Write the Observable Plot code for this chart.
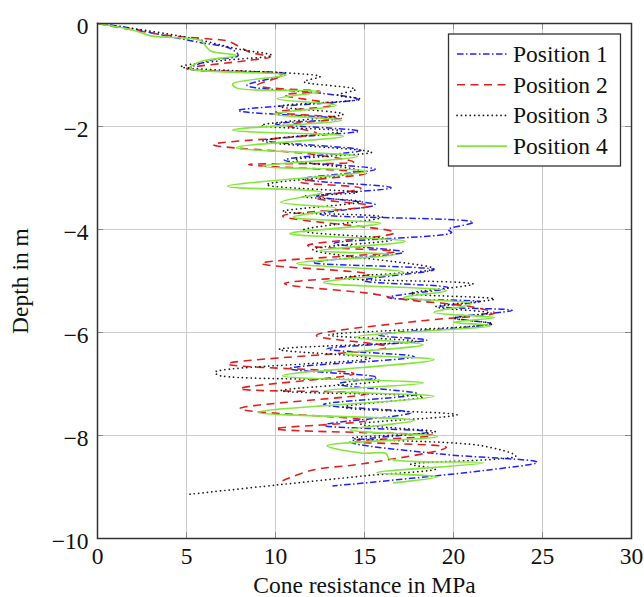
<!DOCTYPE html>
<html><head><meta charset="utf-8">
<script src="https://cdn.jsdelivr.net/npm/d3@7"></script>
<script src="https://cdn.jsdelivr.net/npm/@observablehq/plot@0.6"></script>
<style>body{margin:0;background:#fff}</style>
</head><body><div id="chart"></div>
<script>
const FONT = "'Liberation Serif','Times New Roman',serif";
const xTicks = [0, 5, 10, 15, 20, 25, 30];
const yTicks = [0, -2, -4, -6, -8, -10];
const seriesNames = ["Position 1", "Position 2", "Position 3", "Position 4"];

// Position 1 (blue, dash-dot)
const pos1Q = [0,1.5,3.3,5.6,7.5,7.9,6.3,5.2,10.6,8.4,12.5,14.6,7.9,13.5,10.0,14.7,9.5,14.8,10.5,15.6,11.6,16.5,12.3,15.6,12.5,21.1,19.7,19.9,13.3,17.2,12.1,18.9,14.9,19.7,16.3,21.5,19.2,23.3,20.1,22.1,15.8,18.5,12.9,17.8,10.8,15.7,13.5,18.0,12.7,17.6,12.7,18.6,14.2,19.3,24.7,21.7,13.2];
const pos1D = [0,-0.07,-0.2,-0.36,-0.49,-0.62,-0.72,-0.88,-0.98,-1.2,-1.35,-1.47,-1.69,-1.85,-1.95,-2.09,-2.27,-2.46,-2.65,-2.83,-3.02,-3.19,-3.35,-3.52,-3.70,-3.86,-4.0,-4.06,-4.27,-4.44,-4.64,-4.78,-4.99,-5.13,-5.32,-5.40,-5.50,-5.57,-5.72,-5.83,-6.05,-6.15,-6.32,-6.47,-6.70,-6.87,-7.0,-7.19,-7.40,-7.56,-7.80,-7.93,-8.12,-8.36,-8.52,-8.68,-8.98];

// Position 2 (red, dashed)
const pos2Q = [0,3.9,6.3,7.3,8.6,9.7,8.4,5.0,10.4,9.0,12.5,10.5,13.3,10.0,13.7,10.7,12.3,6.5,12.1,14.4,8.5,15.1,11.4,14.8,12.3,15.3,10.4,16.7,11.8,16.7,9.2,15.3,10.5,15.5,17.0,21.0,22.3,18.0,12.3,16.3,7.3,14.4,8.0,15.1,8.0,15.1,10.0,18.9,14.5,19.6,14.9,12.1,10.4];
const pos2D = [0,-0.23,-0.30,-0.34,-0.56,-0.65,-0.72,-0.88,-1.0,-1.2,-1.32,-1.39,-1.58,-1.72,-1.84,-1.98,-2.13,-2.35,-2.54,-2.69,-2.74,-2.91,-3.08,-3.20,-3.39,-3.54,-3.74,-4.06,-4.31,-4.43,-4.66,-4.87,-5.05,-5.25,-5.35,-5.50,-5.62,-5.78,-6.06,-6.28,-6.61,-6.80,-7.09,-7.19,-7.48,-7.71,-7.87,-8.0,-8.12,-8.23,-8.55,-8.67,-8.88];

// Position 3 (black, dotted)
const pos3Q = [0,3.0,5.5,7.8,9.8,7.0,4.7,12.5,11.6,14.5,13.5,14.8,10.2,13.8,9.2,13.7,9.3,15.4,11.1,14.8,9.5,14.6,11.5,14.8,10.4,16.0,11.5,16.5,12.1,18.9,13.7,21.1,17.6,22.3,19.0,22.0,20.0,22.2,13.0,17.9,10.2,15.3,6.6,6.8,15.9,10.3,18.3,13.8,20.2,14.8,19.0,14.3,21.6,23.5,17.6,19.0,15.1,10.1,5.2];
const pos3D = [0,-0.15,-0.3,-0.49,-0.62,-0.72,-0.84,-1.03,-1.13,-1.28,-1.39,-1.47,-1.61,-1.76,-1.98,-2.09,-2.28,-2.50,-2.65,-2.87,-3.13,-3.28,-3.36,-3.46,-3.65,-3.76,-4.02,-4.20,-4.39,-4.76,-4.94,-5.06,-5.24,-5.35,-5.50,-5.62,-5.72,-5.83,-6.05,-6.17,-6.33,-6.50,-6.77,-6.83,-6.94,-7.13,-7.25,-7.45,-7.60,-7.78,-7.93,-8.05,-8.20,-8.40,-8.56,-8.65,-8.78,-8.96,-9.14];

// Position 4 (green, solid)
const pos4Q = [0,2.0,3.0,5.8,6.1,6.4,7.8,5.8,5.2,10.6,7.6,7.8,12.5,10.1,13.4,9.9,13.7,7.6,13.8,7.8,14.6,9.3,15.1,7.3,12.6,10.3,13.4,11.0,15.9,10.8,17.3,12.5,16.7,11.2,17.2,12.7,19.6,17.2,21.0,18.9,22.3,20.0,22.1,14.5,18.3,13.9,18.9,10.4,18.3,12.8,18.9,9.0,17.8,14.2,19.1,12.9,14.8,16.2,16.4,21.7,15.7,19.1,16.6];
const pos4D = [0,-0.13,-0.24,-0.33,-0.45,-0.54,-0.62,-0.74,-0.87,-1.0,-1.17,-1.25,-1.32,-1.46,-1.59,-1.76,-1.88,-2.07,-2.19,-2.41,-2.58,-2.77,-2.87,-3.16,-3.28,-3.47,-3.59,-3.76,-3.88,-4.08,-4.23,-4.41,-4.49,-4.66,-4.83,-5.03,-5.19,-5.32,-5.44,-5.61,-5.71,-5.80,-5.87,-6.09,-6.24,-6.41,-6.53,-6.84,-6.98,-7.13,-7.24,-7.55,-7.71,-7.89,-8.02,-8.20,-8.34,-8.35,-8.45,-8.53,-8.72,-8.80,-8.92];

const allQ = [pos1Q, pos2Q, pos3Q, pos4Q];
const allD = [pos1D, pos2D, pos3D, pos4D];
const styles = [
  {stroke: "#2020ff", strokeDasharray: "6.5,2.5,1.5,2.5", strokeWidth: 1.5, strokeLinecap: "butt"},
  {stroke: "#e01f1f", strokeDasharray: "8,5.5", strokeWidth: 1.6, strokeLinecap: "butt"},
  {stroke: "#1a1a1a", strokeDasharray: "0.1,4.3", strokeWidth: 1.7, strokeLinecap: "round"},
  {stroke: "#84e63c", strokeDasharray: null, strokeWidth: 1.6, strokeLinecap: "butt"}
];
const rows = seriesNames.flatMap((name, i) => allQ[i].map((q, j) => ({name, q, d: allD[i][j]})));

const W = 644, H = 597, ML = 97, MR = 13, MT = 23, MB = 59;
const FW = W - ML - MR, FH = H - MT - MB;
const FS = 23.5;
const innerX = xTicks.slice(1, -1), innerY = yTicks.slice(1, -1);

const chart = Plot.plot({
  width: W, height: H, marginLeft: ML, marginRight: MR, marginTop: MT, marginBottom: MB,
  style: {fontFamily: FONT, background: "#fff", color: "#111"},
  x: {domain: [0, 30]},
  y: {domain: [-10, 0]},
  marks: [
    Plot.gridX(innerX, {stroke: "#cccccc", strokeOpacity: 1, strokeWidth: 1}),
    Plot.gridY(innerY, {stroke: "#cccccc", strokeOpacity: 1, strokeWidth: 1}),
    Plot.ruleX(innerX, {stroke: "#8a8a8a", insetTop: FH - 6}),
    Plot.ruleX(innerX, {stroke: "#8a8a8a", insetBottom: FH - 6}),
    Plot.ruleY(innerY, {stroke: "#8a8a8a", insetRight: FW - 6}),
    Plot.ruleY(innerY, {stroke: "#8a8a8a", insetLeft: FW - 6}),
    ...seriesNames.map((name, i) => Plot.line(rows.filter(r => r.name === name), {
      x: "q", y: "d", curve: "catmull-rom", ...styles[i]
    })),
    Plot.frame({stroke: "#333", strokeWidth: 1.5}),
    Plot.axisX(xTicks, {tickSize: 0, tickPadding: 9, fontSize: FS, label: null, tickFormat: "d"}),
    Plot.axisY(yTicks, {tickSize: 0, tickPadding: 9, fontSize: FS, label: null, dy: 2.5, tickFormat: "d"}),
    Plot.text(["Cone resistance in MPa"], {text: d => d, frameAnchor: "bottom", dy: 47, fontSize: FS, lineAnchor: "middle", textAnchor: "middle"}),
    Plot.text(["Depth in m"], {text: d => d, frameAnchor: "left", dx: -77, rotate: -90, fontSize: FS, lineAnchor: "middle", textAnchor: "middle"})
  ]
});
document.getElementById("chart").appendChild(chart);

// legend
const svg = d3.select(chart.tagName.toLowerCase() === "svg" ? chart : chart.querySelector("svg"));
const lg = svg.append("g").attr("text-anchor", "start");
lg.append("rect").attr("x", 448.5).attr("y", 34).attr("width", 172).attr("height", 132)
  .attr("fill", "#fff").attr("stroke", "#333").attr("stroke-width", 1.3);
const rowY = [54, 84.7, 115.4, 146.1];
seriesNames.forEach((name, i) => {
  const s = styles[i];
  lg.append("line").attr("x1", 457).attr("x2", 507).attr("y1", rowY[i]).attr("y2", rowY[i])
    .attr("stroke", s.stroke).attr("stroke-width", s.strokeWidth)
    .attr("stroke-linecap", s.strokeLinecap)
    .attr("stroke-dasharray", s.strokeDasharray);
  lg.append("text").attr("x", 513).attr("y", rowY[i] + 8)
    .attr("text-anchor", "start")
    .attr("font-family", FONT).attr("font-size", FS).attr("fill", "#111").text(name);
});
</script>
</body></html>
